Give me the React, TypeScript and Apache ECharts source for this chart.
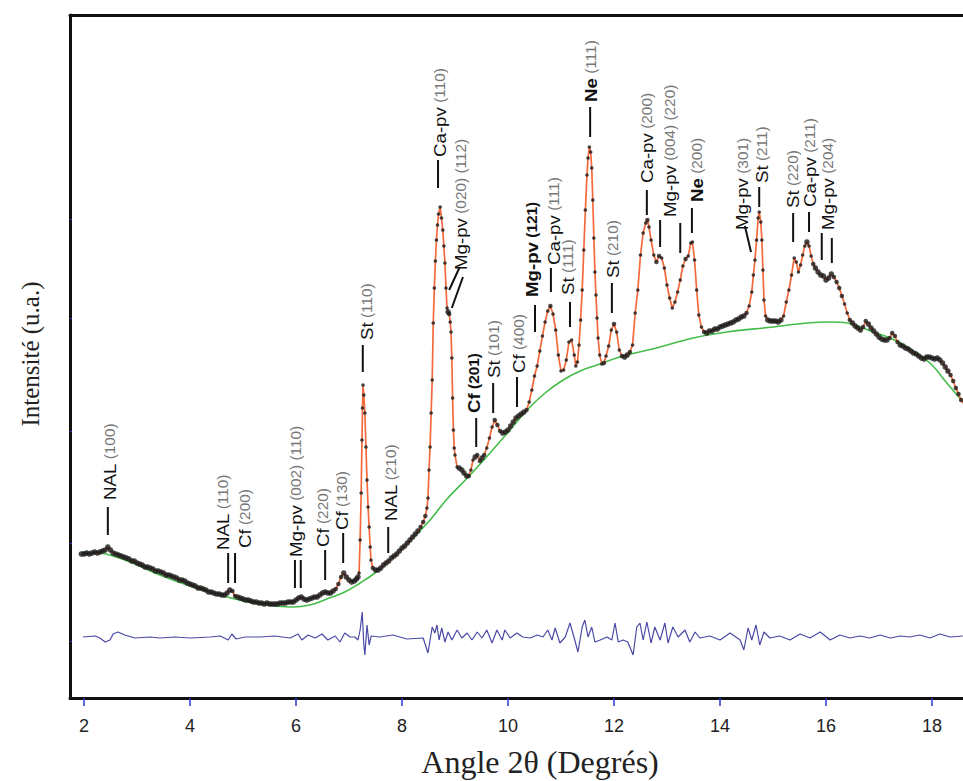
import React, { useEffect, useRef } from "react";
import * as echarts from "echarts";

// ---- data (x in degrees 2θ, intensity in arbitrary units) ----
const xTickValues = [2, 4, 6, 8, 10, 12, 14, 16, 18];
const yTickValues = [57, 155, 267, 380, 479];

const observed: number[][] = [
  [1.95,144],[2.00,144],[2.05,145],[2.10,144],[2.15,145],[2.20,146],[2.25,145],[2.30,146],[2.35,147],[2.40,148],
  [2.45,151],[2.50,148],[2.55,145],[2.60,144],[2.65,143],[2.70,142],[2.75,141],[2.80,140],[2.85,139],[2.90,137],
  [2.95,137],[3.00,135],[3.05,134],[3.10,133],[3.15,131],[3.20,131],[3.25,130],[3.30,129],[3.35,127],[3.40,127],
  [3.45,126],[3.50,125],[3.55,123],[3.60,123],[3.65,122],[3.70,121],[3.75,120],[3.80,118],[3.85,118],[3.90,117],
  [3.95,115],[4.00,114],[4.05,113],[4.10,112],[4.15,110],[4.20,110],[4.25,109],[4.30,108],[4.35,106],[4.40,106],
  [4.45,105],[4.50,104],[4.55,104],[4.60,103],[4.65,103],[4.70,105],[4.75,108],[4.80,107],[4.85,102],[4.90,101],
  [4.95,100],[5.00,99],[5.05,98],[5.10,98],[5.15,97],[5.20,96],[5.25,96],[5.30,95],[5.35,95],[5.40,94],
  [5.45,95],[5.50,94],[5.55,94],[5.60,94],[5.65,94],[5.70,95],[5.75,95],[5.80,95],[5.85,96],[5.90,96],
  [5.95,96],[6.00,98],[6.05,100],[6.10,101],[6.15,99],[6.20,98],[6.25,99],[6.30,100],[6.35,101],[6.40,101],
  [6.45,103],[6.50,105],[6.55,106],[6.60,105],[6.65,105],[6.70,107],[6.75,109],[6.80,114],[6.85,121],[6.90,125],
  [6.95,121],[7.00,118],[7.05,116],[7.10,117],[7.14,119],[7.17,121],
  [7.19,125],[7.21,158],[7.23,205],[7.245,258],[7.255,290],[7.265,313],[7.28,303],[7.30,285],[7.32,251],[7.34,218],
  [7.36,191],[7.38,171],[7.40,151],[7.415,138],[7.45,130],
  [7.50,128],[7.55,128],[7.60,130],[7.65,133],[7.70,135],[7.75,137],[7.80,140],[7.85,142],[7.90,144],[7.95,147],
  [8.00,150],[8.05,152],[8.10,155],[8.15,158],[8.20,161],[8.25,164],[8.30,167],[8.35,171],[8.40,176],[8.44,182],
  [8.47,190],
  [8.49,200],[8.51,228],[8.53,251],[8.55,285],[8.57,318],[8.59,375],[8.61,410],[8.63,437],[8.65,458],[8.67,473],
  [8.69,484],[8.72,491],[8.745,480],[8.77,468],[8.79,452],[8.81,435],[8.83,410],[8.85,390],[8.87,386],[8.89,384],
  [8.91,376],[8.925,366],[8.94,340],[8.955,300],[8.97,268],[8.985,250],
  [9.00,243],[9.04,231],[9.08,230],[9.13,228],[9.17,225],[9.22,222],[9.26,222],[9.30,228],[9.34,238],[9.38,241],
  [9.42,243],[9.47,237],[9.51,240],[9.55,243],[9.60,250],[9.65,260],[9.70,271],[9.75,278],[9.80,273],[9.85,267],
  [9.90,265],[9.95,266],[10.00,268],[10.05,272],[10.10,276],[10.15,280],[10.20,282],[10.25,284],[10.30,286],[10.35,288],
  [10.40,296],[10.45,308],[10.50,322],[10.55,332],[10.60,347],[10.65,362],[10.70,376],[10.75,387],[10.80,392],[10.85,384],
  [10.90,368],[10.95,343],[11.00,327],[11.05,328],[11.10,338],[11.15,356],[11.20,358],[11.25,343],[11.28,332],[11.31,336],
  [11.34,353],[11.37,378],[11.40,408],[11.43,448],[11.46,488],[11.49,523],[11.51,540],[11.535,551],[11.56,546],[11.58,530],
  [11.60,498],[11.62,460],[11.64,426],[11.66,403],[11.68,380],[11.70,360],[11.73,343],[11.77,334],[11.81,335],[11.85,342],
  [11.90,352],[11.95,368],[12.00,374],[12.05,366],[12.10,348],[12.15,342],[12.20,341],[12.25,343],[12.30,346],[12.35,353],
  [12.40,385],[12.45,408],[12.50,443],[12.55,465],[12.60,475],[12.63,478],[12.66,471],[12.70,458],[12.75,443],[12.80,436],
  [12.85,442],[12.90,440],[12.95,430],[13.00,413],[13.05,400],[13.10,390],[13.15,396],[13.20,406],[13.25,418],[13.30,432],
  [13.35,439],[13.40,442],[13.45,455],[13.48,456],[13.52,438],[13.56,408],[13.60,383],[13.65,371],[13.70,366],[13.75,365],
  [13.80,367],[13.85,367],[13.90,369],[13.95,369],[14.00,371],[14.05,372],[14.10,373],[14.15,374],[14.20,375],[14.25,376],
  [14.30,378],[14.35,379],[14.40,381],[14.45,382],[14.50,385],[14.55,392],[14.60,406],[14.63,423],[14.66,438],[14.69,458],
  [14.72,480],[14.74,486],[14.77,476],[14.79,458],[14.81,428],[14.83,398],[14.86,382],[14.90,378],[14.95,377],[15.00,377],
  [15.05,377],[15.10,376],[15.15,378],[15.20,382],[15.25,396],[15.30,408],[15.35,423],[15.40,440],[15.44,436],[15.48,426],
  [15.52,433],[15.56,443],[15.60,452],[15.64,456],[15.68,452],[15.72,442],[15.76,434],[15.80,430],[15.85,426],[15.90,423],
  [15.95,422],[16.00,418],[16.05,420],[16.10,424],[16.15,421],[16.20,416],[16.25,410],[16.30,402],[16.35,394],[16.40,385],
  [16.45,378],[16.50,375],[16.55,372],[16.60,370],[16.65,368],[16.70,371],[16.75,377],[16.80,374],[16.85,370],[16.90,367],
  [16.95,364],[17.00,361],[17.05,359],[17.10,358],[17.15,358],[17.20,360],[17.25,365],[17.30,362],[17.35,356],[17.40,353],
  [17.45,352],[17.50,350],[17.55,349],[17.60,347],[17.65,345],[17.70,344],[17.75,342],[17.80,340],[17.85,339],[17.90,341],
  [17.95,341],[18.00,340],[18.05,339],[18.10,340],[18.15,338],[18.20,335],[18.25,331],[18.30,327],[18.35,323],[18.40,317],
  [18.45,310],[18.50,304],[18.55,298],[18.60,294]
];

const background: number[][] = [
  [1.96,146],[2.30,145],[2.49,143],[2.87,136],[3.43,123],[4.00,112],[4.70,101],[5.32,94],[5.94,91],[6.26,93],
  [6.58,99],[6.92,106],[7.21,115],[7.49,125],[7.77,138],[8.15,157],[8.53,178],[8.85,199],[9.25,221],[9.66,245],
  [10.04,268],[10.36,288],[10.70,305],[11.04,318],[11.36,327],[11.68,333],[12.11,341],[12.87,351],[13.49,360],[14.13,366],
  [15.00,371],[15.64,375],[16.08,376],[16.40,375],[16.89,366],[17.21,360],[17.53,351],[17.96,335],[18.28,315],[18.60,295]
];

const difference: number[][] = [
  [1.98,61],[2.21,62],[2.30,60],[2.40,56],[2.49,58],[2.55,64],[2.64,66],[2.77,63],[2.96,60],[3.25,61],
  [3.43,60],[3.72,61],[4.00,60],[4.38,61],[4.57,62],[4.72,58],[4.79,64],[4.87,59],[5.04,61],[5.32,61],
  [5.60,62],[5.89,60],[6.04,64],[6.11,58],[6.23,63],[6.36,60],[6.49,64],[6.60,58],[6.74,62],[6.83,56],
  [6.92,65],[7.02,61],[7.11,61],[7.17,58],[7.21,68],[7.25,86],[7.28,53],[7.30,43],[7.34,73],[7.38,53],
  [7.42,62],[7.58,61],[7.83,63],[8.09,59],[8.40,60],[8.49,45],[8.57,71],[8.62,65],[8.66,73],[8.70,58],
  [8.75,70],[8.81,56],[8.87,66],[8.94,58],[9.04,68],[9.13,60],[9.23,65],[9.32,58],[9.42,66],[9.51,60],
  [9.60,68],[9.70,55],[9.79,68],[9.89,58],[9.94,68],[10.04,60],[10.17,65],[10.28,61],[10.42,60],[10.55,63],
  [10.66,61],[10.75,68],[10.83,58],[10.89,70],[10.98,55],[11.08,61],[11.17,75],[11.26,58],[11.32,46],[11.40,71],
  [11.45,78],[11.51,61],[11.58,71],[11.64,56],[11.74,58],[11.87,61],[11.96,58],[12.02,75],[12.08,56],[12.17,58],
  [12.26,56],[12.36,43],[12.43,71],[12.49,75],[12.55,58],[12.62,76],[12.70,55],[12.77,71],[12.87,58],[12.96,75],
  [13.02,55],[13.11,71],[13.21,61],[13.34,68],[13.43,56],[13.53,66],[13.62,60],[13.81,62],[14.00,58],[14.19,65],
  [14.38,58],[14.45,48],[14.53,70],[14.60,58],[14.68,73],[14.75,53],[14.83,66],[14.94,60],[15.13,62],[15.32,58],
  [15.51,64],[15.70,60],[15.89,66],[16.08,58],[16.26,63],[16.45,60],[16.64,62],[16.83,60],[17.02,63],[17.21,60],
  [17.40,62],[17.58,61],[17.77,63],[17.96,60],[18.15,64],[18.34,61],[18.58,62]
];

// peak annotations: label, Miller indices, marker segments [x1, y1, x2, y2], label anchor (x, y)
const annLabels = ["NAL","NAL","Cf","Mg-pv","Cf","Cf","St","NAL","Ca-pv","Mg-pv","Cf","St","Cf","Mg-pv","Ca-pv","St","Ne","St","Ca-pv","Mg-pv","Ne","Mg-pv","St","St","Ca-pv","Mg-pv"];
const annHkl = ["(100)","(110)","(200)","(002) (110)","(220)","(130)","(110)","(210)","(110)","(020) (112)","(201)","(101)","(400)","(121)","(111)","(111)","(111)","(210)","(200)","(004) (220)","(200)","(301)","(211)","(220)","(211)","(204)"];
const annTicks: number[][][] = [
  [[2.45,163,2.45,191]],
  [[4.72,115,4.72,145]],
  [[4.85,115,4.85,145]],
  [[5.98,110,5.98,138],[6.09,110,6.09,138]],
  [[6.55,118,6.55,148]],
  [[6.89,135,6.89,165]],
  [[7.26,326,7.26,353]],
  [[7.74,145,7.74,171]],
  [[8.68,510,8.68,538]],
  [[8.89,408,9.09,431],[8.94,390,9.15,421]],
  [[9.40,251,9.40,280]],
  [[9.72,285,9.72,315]],
  [[10.17,291,10.17,321]],
  [[10.51,366,10.51,393]],
  [[10.81,406,10.81,430]],
  [[11.17,371,11.17,396]],
  [[11.55,561,11.55,591]],
  [[11.96,385,11.96,415]],
  [[12.62,483,12.62,508]],
  [[12.87,451,12.87,478],[13.25,445,13.25,475]],
  [[13.47,465,13.47,490]],
  [[14.585,446,14.47,472]],
  [[14.74,491,14.74,511]],
  [[15.38,456,15.38,485]],
  [[15.68,466,15.68,486]],
  [[15.92,438,15.92,465],[16.11,435,16.11,460]]
];
const annAnchor: number[][] = [
  [2.49,198],[4.62,148],[5.04,150],[6.00,141],[6.51,151],[6.87,168],[7.34,358],[7.79,177],[8.72,541],[9.11,428],
  [9.36,285],[9.75,320],[10.21,325],[10.45,401],[10.87,433],[11.13,403],[11.58,596],[11.98,420],[12.62,515],[13.06,481],
  [13.57,496],[14.43,468],[14.79,515],[15.38,490],[15.70,491],[16.04,468]
];
// 0 = regular, 1 = bold label, 2 = bold label and indices
const annWeight = [0,0,0,0,0,0,0,0,0,0,2,0,0,2,0,0,1,0,0,0,1,0,0,0,0,0];

export default function App() {
  const ref = useRef<HTMLDivElement>(null);
  useEffect(() => {
    if (!ref.current) return;
    const chart = echarts.init(ref.current, null, { renderer: "svg" });
    const xMin = 1.736;
    const xMax = 18.585;
    const sans = "Liberation Sans, Arial, sans-serif";
    const serif = "Liberation Serif, Times New Roman, serif";
    // bigger markers where the profile is flat (dense noisy band), small ones on peak flanks
    const dotSize = (_v: any, p: any) => {
      const i = p.dataIndex;
      const a = observed[Math.max(0, i - 1)];
      const b = observed[Math.min(observed.length - 1, i + 1)];
      const c = observed[i];
      const d = Math.max(Math.abs(c[1] - a[1]), Math.abs(b[1] - c[1]));
      return d <= 4 ? 5.5 : d <= 8 ? 4.5 : 3.6;
    };
    chart.setOption({
      animation: false,
      backgroundColor: "#ffffff",
      grid: { left: 70, right: 0, top: 15, bottom: 83 },
      xAxis: [
        {
          type: "value",
          min: xMin,
          max: xMax,
          position: "bottom",
          splitLine: { show: false },
          axisLine: { show: true, onZero: false, lineStyle: { color: "#111", width: 3 } },
          axisTick: { show: true, customValues: xTickValues, length: 8, inside: false, lineStyle: { color: "#2a3ad0", width: 1.5 } },
          axisLabel: { show: true, customValues: xTickValues, margin: 19, fontSize: 18, color: "#222", fontFamily: sans },
        },
        {
          type: "value",
          min: xMin,
          max: xMax,
          position: "top",
          splitLine: { show: false },
          axisLine: { show: true, onZero: false, lineStyle: { color: "#111", width: 3 } },
          axisTick: { show: false },
          axisLabel: { show: false },
        },
      ],
      yAxis: {
        type: "value",
        min: 0,
        max: 683,
        splitLine: { show: false },
        axisLine: { show: true, onZero: false, lineStyle: { color: "#111", width: 3 } },
        axisTick: { show: true, inside: true, length: 2, customValues: yTickValues, lineStyle: { color: "#2a3ad0", width: 1 } },
        axisLabel: { show: false },
      },
      graphic: [
        {
          type: "text",
          x: 30,
          y: 354,
          rotation: Math.PI / 2,
          style: { text: "Intensité (u.a.)", font: `25px ${serif}`, fill: "#222", align: "center", verticalAlign: "middle" },
        },
        {
          type: "text",
          x: 540,
          y: 762,
          style: { text: "Angle 2θ (Degrés)", font: `32px ${serif}`, fill: "#222", align: "center", verticalAlign: "middle" },
        },
      ],
      series: [
        {
          type: "line",
          name: "background",
          data: background,
          smooth: 0.4,
          showSymbol: false,
          lineStyle: { color: "#45bd4a", width: 1.6 },
          z: 2,
        },
        {
          type: "line",
          name: "difference",
          data: difference,
          showSymbol: false,
          lineStyle: { color: "#4a4aa6", width: 1.2 },
          z: 2,
        },
        {
          type: "line",
          name: "fit",
          data: observed,
          showSymbol: false,
          lineStyle: { color: "#f4693c", width: 1.7 },
          z: 3,
        },
        {
          type: "scatter",
          name: "observed",
          data: observed,
          symbol: "circle",
          symbolSize: dotSize,
          itemStyle: { color: "#1c1c1c" },
          z: 4,
        },
        {
          type: "custom",
          name: "annotations",
          data: annAnchor,
          encode: { x: 0, y: 1 },
          clip: false,
          z: 5,
          renderItem: (params: any, api: any) => {
            const i = params.dataIndex;
            const children: any[] = annTicks[i].map((t) => {
              const p1 = api.coord([t[0], t[1]]);
              const p2 = api.coord([t[2], t[3]]);
              return {
                type: "line",
                shape: { x1: p1[0], y1: p1[1], x2: p2[0], y2: p2[1] },
                style: { stroke: "#111", lineWidth: 2 },
              };
            });
            const lp = api.coord([api.value(0), api.value(1)]);
            const w = annWeight[i];
            children.push({
              type: "text",
              x: lp[0],
              y: lp[1],
              rotation: Math.PI / 2,
              scaleX: 1.1,
              style: {
                text: `{m|${annLabels[i]}} {h|${annHkl[i]}}`,
                align: "left",
                verticalAlign: "middle",
                font: `14px ${sans}`,
                rich: {
                  m: { fontSize: 17, fontFamily: sans, fill: "#111", fontWeight: w > 0 ? "bold" : "normal" },
                  h: { fontSize: 14, fontFamily: sans, fill: w === 2 ? "#111" : "#777", fontWeight: w === 2 ? "bold" : "normal" },
                },
              },
            });
            return { type: "group", children };
          },
        },
      ],
    });
    return () => chart.dispose();
  }, []);
  return (
    <div
      ref={ref}
      style={{ position: "fixed", left: 0, top: 0, width: 963, height: 781, background: "#fff" }}
    />
  );
}
